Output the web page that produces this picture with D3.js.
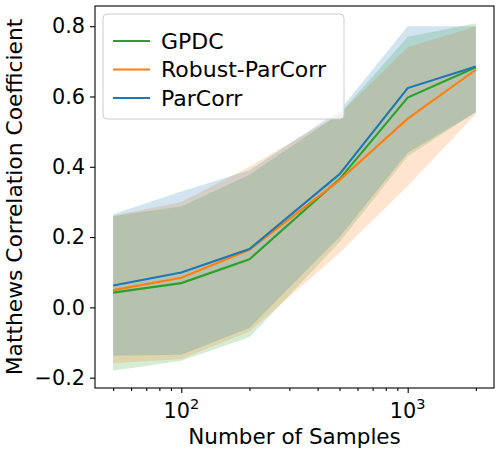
<!DOCTYPE html>
<html>
<head>
<meta charset="utf-8">
<script src="https://cdn.jsdelivr.net/npm/d3@7"></script>
<style>
  body { margin: 0; background: #fff; }
  text { font-family: "DejaVu Sans", sans-serif; }
</style>
</head>
<body>
<div id="chart"></div>
<script>
// MCC vs number of samples, mean line + band per method
var samples = [50, 100, 200, 500, 1000, 2000];

var gpdcMean = [0.042, 0.069, 0.137, 0.365, 0.597, 0.683];
var gpdcLow  = [-0.180, -0.152, -0.085, 0.185, 0.430, 0.555];
var gpdcHigh = [0.260, 0.287, 0.377, 0.550, 0.770, 0.808];

var robustMean = [0.049, 0.084, 0.164, 0.362, 0.537, 0.676];
var robustLow  = [-0.159, -0.147, -0.069, 0.155, 0.345, 0.550];
var robustHigh = [0.261, 0.300, 0.400, 0.550, 0.740, 0.800];

var parcorrMean = [0.062, 0.099, 0.166, 0.379, 0.624, 0.685];
var parcorrLow  = [-0.138, -0.135, -0.059, 0.200, 0.440, 0.555];
var parcorrHigh = [0.265, 0.330, 0.390, 0.560, 0.800, 0.800];

var yTicks = [-0.2, 0.0, 0.2, 0.4, 0.6, 0.8];
var xTicks = [100, 1000];

var series = [
  {name: "GPDC", colour: "#2ca02c", mean: gpdcMean, low: gpdcLow, high: gpdcHigh},
  {name: "Robust-ParCorr", colour: "#ff7f0e", mean: robustMean, low: robustLow, high: robustHigh},
  {name: "ParCorr", colour: "#1f77b4", mean: parcorrMean, low: parcorrLow, high: parcorrHigh}
];

var width = 500,
    height = 454;
var margin = {left: 95, right: 6, top: 6, bottom: 66};

var svg = d3.select("#chart").append("svg")
    .attr("width", width)
    .attr("height", height);

// matplotlib style 5% margins
var lx0 = Math.log10(d3.min(samples)), lx1 = Math.log10(d3.max(samples));
var padX = (lx1 - lx0) * 0.05;
var x = d3.scaleLog()
    .domain([Math.pow(10, lx0 - padX), Math.pow(10, lx1 + padX)])
    .range([margin.left, width - margin.right]);

var allY = [].concat(gpdcLow, gpdcHigh, robustLow, robustHigh, parcorrLow, parcorrHigh);
var y0 = d3.min(allY), y1 = d3.max(allY);
var padY = (y1 - y0) * 0.05;
var y = d3.scaleLinear()
    .domain([y0 - padY, y1 + padY])
    .range([height - margin.bottom, margin.top]);

var area = d3.area()
    .x(function(d) { return x(d.s); })
    .y0(function(d) { return y(d.lo); })
    .y1(function(d) { return y(d.hi); });

var line = d3.line()
    .x(function(d) { return x(d.s); })
    .y(function(d) { return y(d.m); });

series.forEach(function(s) {
  s.points = samples.map(function(v, i) {
    return {s: v, m: s.mean[i], lo: s.low[i], hi: s.high[i]};
  });
});

// bands
svg.append("g").selectAll("path")
    .data(series)
    .enter().append("path")
    .attr("d", function(s) { return area(s.points); })
    .attr("fill", function(s) { return s.colour; })
    .attr("fill-opacity", 0.2);

// lines
svg.append("g").selectAll("path")
    .data(series)
    .enter().append("path")
    .attr("d", function(s) { return line(s.points); })
    .attr("fill", "none")
    .attr("stroke", function(s) { return s.colour; })
    .attr("stroke-width", 2.1);

// y axis
var yAxis = svg.append("g")
    .attr("transform", "translate(" + margin.left + ",0)")
    .call(d3.axisLeft(y).tickValues(yTicks).tickSize(5).tickPadding(5)
      .tickFormat(function(d) { return d3.format(".1f")(d).replace("-", "\u2212"); }));
yAxis.selectAll("text").attr("font-size", "20.8px").attr("fill", "#000")
    .style("font-family", "DejaVu Sans");

// x axis: minor ticks + 10^n labels
var minor = [];
[10, 100, 1000].forEach(function(dec) {
  for (var k = 2; k <= 9; k++) minor.push(dec * k);
});
var xd = x.domain();
minor = minor.filter(function(v) { return v >= xd[0] && v <= xd[1]; });

var xAxisG = svg.append("g")
    .attr("transform", "translate(0," + (height - margin.bottom) + ")");
xAxisG.call(d3.axisBottom(x).tickValues(minor).tickSize(3).tickFormat(""));
xAxisG.append("g").call(d3.axisBottom(x).tickValues(xTicks).tickSize(5).tickFormat(""));
xAxisG.selectAll(".domain").remove();
yAxis.select(".domain").remove();
svg.selectAll(".tick line").attr("stroke", "#000").attr("stroke-width", 1.1);

var xl = xAxisG.selectAll(".xlab")
    .data(xTicks)
    .enter().append("text")
    .attr("class", "xlab")
    .attr("x", function(d) { return x(d); })
    .attr("y", 30)
    .attr("text-anchor", "middle")
    .attr("font-size", "20.8px")
    .attr("fill", "#000");
xl.append("tspan").text("10");
xl.append("tspan")
    .attr("font-size", "14.5px")
    .attr("dy", -9)
    .text(function(d) { return Math.round(Math.log10(d)); });

// frame
svg.append("rect")
    .attr("x", margin.left)
    .attr("y", margin.top)
    .attr("width", width - margin.left - margin.right)
    .attr("height", height - margin.top - margin.bottom)
    .attr("fill", "none")
    .attr("stroke", "#000")
    .attr("stroke-width", 1.1);

// axis labels
svg.append("text")
    .attr("x", (margin.left + width - margin.right) / 2)
    .attr("y", 444)
    .attr("text-anchor", "middle")
    .attr("font-size", "21.5px")
    .text("Number of Samples");

svg.append("text")
    .attr("transform", "translate(21.5," + ((margin.top + height - margin.bottom) / 2) + ") rotate(-90)")
    .attr("text-anchor", "middle")
    .attr("font-size", "21.8px")
    .text("Matthews Correlation Coefficient");

// legend
var legend = svg.append("g").attr("transform", "translate(103,14)");
legend.append("rect")
    .attr("width", 241)
    .attr("height", 105)
    .attr("rx", 4)
    .attr("fill", "#fff")
    .attr("fill-opacity", 0.8)
    .attr("stroke", "#ccc")
    .attr("stroke-width", 1);

var entry = legend.selectAll(".entry")
    .data(series)
    .enter().append("g")
    .attr("transform", function(d, i) { return "translate(0," + (27 + i * 28.5) + ")"; });
entry.append("line")
    .attr("x1", 10).attr("x2", 47)
    .attr("stroke", function(d) { return d.colour; })
    .attr("stroke-width", 2.1);
entry.append("text")
    .attr("x", 58)
    .attr("dy", "0.36em")
    .attr("font-size", "22px")
    .text(function(d) { return d.name; });
</script>
</body>
</html>
